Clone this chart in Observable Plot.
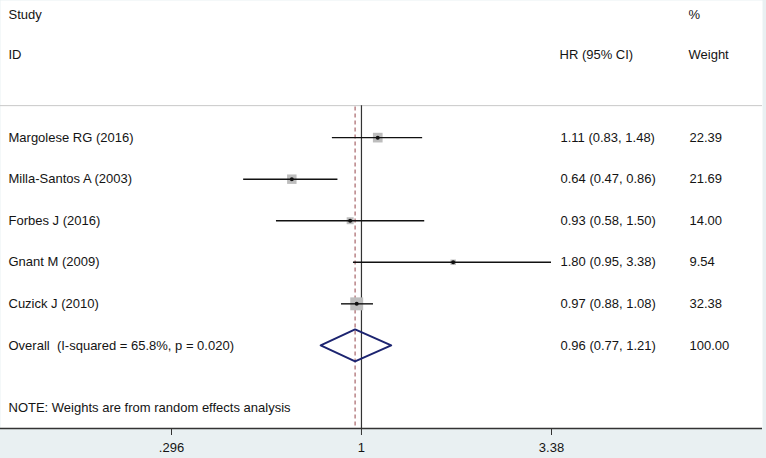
<!DOCTYPE html>
<html>
<head>
<meta charset="utf-8">
<script src="https://cdn.jsdelivr.net/npm/d3@7"></script>
<script src="https://cdn.jsdelivr.net/npm/@observablehq/plot@0.6"></script>
<style>
  html, body { margin: 0; padding: 0; background: #ffffff; }
  #chart svg { display: block; }
</style>
</head>
<body>
<div id="chart"></div>
<script>
// ---- data ----
const studies = ["Margolese RG (2016)", "Milla-Santos A (2003)", "Forbes J (2016)", "Gnant M (2009)", "Cuzick J (2010)"];
const hr      = [1.11, 0.64, 0.93, 1.80, 0.97];
const lower   = [0.83, 0.47, 0.58, 0.95, 0.88];
const upper   = [1.48, 0.86, 1.50, 3.38, 1.08];
const weights = [22.39, 21.69, 14.00, 9.54, 32.38];

const overallLabel = "Overall\u00a0 (I-squared = 65.8%, p = 0.020)";
const overallHR = 0.96, overallLo = 0.77, overallHi = 1.21, overallWeight = 100.00;

const tickValues = [0.296, 1, 3.38];
const tickLabels = [".296", "1", "3.38"];

const headerTop = ["Study", "%"];
const headerBottom = ["ID", "HR (95% CI)", "Weight"];
const note = "NOTE: Weights are from random effects analysis";

// ---- tables ----
const rows = studies.map((s, i) => ({
  label: s, hr: hr[i], lo: lower[i], hi: upper[i], w: weights[i], row: i + 1
}));
const overallRow = studies.length + 1;
const allRows = [...rows, {label: overallLabel, hr: overallHR, lo: overallLo, hi: overallHi, w: overallWeight, row: overallRow}];
const fmt = d => d.toFixed(2);
const ciText = d => `${fmt(d.hr)} (${fmt(d.lo)}, ${fmt(d.hi)})`;

const dh = 0.385; // diamond half-height in row units
const diamond = [
  {x: overallLo, y: overallRow},
  {x: overallHR, y: overallRow - dh},
  {x: overallHi, y: overallRow},
  {x: overallHR, y: overallRow + dh}
];

const W = 766, H = 458, MR = 4, MB = 30;
const yTop = -2.3, yBottom = 8.0;
const FS = 13;
const TXT = "#141414";
const font = "Liberation Sans, Arial, sans-serif";

const chart = Plot.plot({
  width: W,
  height: H,
  marginLeft: 0,
  marginRight: MR,
  marginTop: 0,
  marginBottom: MB,
  style: {background: "#e9f0f2", fontFamily: font, color: TXT},
  x: {type: "log", domain: [tickValues[0], tickValues[2]], range: [171, 551], axis: null},
  y: {domain: [yTop, yBottom], reverse: true, axis: null},
  r: {type: "linear", domain: d3.extent(weights), range: [3.1, 7.3]},
  marks: [
    Plot.frame({fill: "white", stroke: "none"}),
    // header separator
    Plot.ruleY([0.23], {stroke: "#c9c9c9", strokeWidth: 1}),
    // reference line at 1 (solid) and overall (dashed)
    Plot.ruleX([1], {y1: 0.23, y2: yBottom, stroke: "#333", strokeWidth: 1.2}),
    Plot.ruleX([overallHR], {y1: 0.26, y2: yBottom, stroke: "#a86468", strokeWidth: 1.2, strokeDasharray: "4,3"}),
    // boxes
    Plot.dot(rows, {x: "hr", y: "row", r: "w", symbol: "square", fill: "#bdbdbd", stroke: "none"}),
    // CI lines
    Plot.ruleY(rows, {x1: "lo", x2: "hi", y: "row", stroke: "#111", strokeWidth: 1.4}),
    // point estimates
    Plot.dot(rows, {x: "hr", y: "row", r: 2, fill: "#111", stroke: "none"}),
    // overall diamond
    Plot.line(diamond, {x: "x", y: "y", curve: "linear-closed", stroke: "#1c2470", strokeWidth: 2, fill: "none"}),
    // labels
    Plot.text(allRows, {y: "row", text: "label", frameAnchor: "left", dx: 8, textAnchor: "start", lineAnchor: "middle", fontSize: FS, fill: TXT}),
    Plot.text(allRows, {y: "row", text: ciText, frameAnchor: "right", dx: 560 - (W - MR), textAnchor: "start", lineAnchor: "middle", fontSize: FS, fill: TXT}),
    Plot.text(allRows, {y: "row", text: d => fmt(d.w), frameAnchor: "right", dx: 689 - (W - MR), textAnchor: "start", lineAnchor: "middle", fontSize: FS, fill: TXT}),
    // headers
    Plot.text([headerTop[0]], {y: -1.96, text: d => d, frameAnchor: "left", dx: 8, textAnchor: "start", lineAnchor: "middle", fontSize: FS, fill: TXT}),
    Plot.text([headerTop[1]], {y: -1.96, text: d => d, frameAnchor: "right", dx: 688 - (W - MR), textAnchor: "start", lineAnchor: "middle", fontSize: FS, fill: TXT}),
    Plot.text([headerBottom[0]], {y: -1.0, text: d => d, frameAnchor: "left", dx: 8, textAnchor: "start", lineAnchor: "middle", fontSize: FS, fill: TXT}),
    Plot.text([headerBottom[1]], {y: -1.0, text: d => d, frameAnchor: "right", dx: 559 - (W - MR), textAnchor: "start", lineAnchor: "middle", fontSize: FS, fill: TXT}),
    Plot.text([headerBottom[2]], {y: -1.0, text: d => d, frameAnchor: "right", dx: 688 - (W - MR), textAnchor: "start", lineAnchor: "middle", fontSize: FS, fill: TXT}),
    // note
    Plot.text([note], {y: 7.5, text: d => d, frameAnchor: "left", dx: 8, textAnchor: "start", lineAnchor: "middle", fontSize: FS, fill: TXT}),
    // x axis
    Plot.ruleY([yBottom], {stroke: "#333", strokeWidth: 1.5}),
    Plot.axisX({ticks: tickValues, tickFormat: (d) => tickLabels[tickValues.indexOf(d)], tickSize: 7, tickPadding: 7, fontSize: FS, stroke: "#333", fill: TXT, label: null})
  ]
});
document.getElementById("chart").appendChild(chart);
</script>
</body>
</html>
